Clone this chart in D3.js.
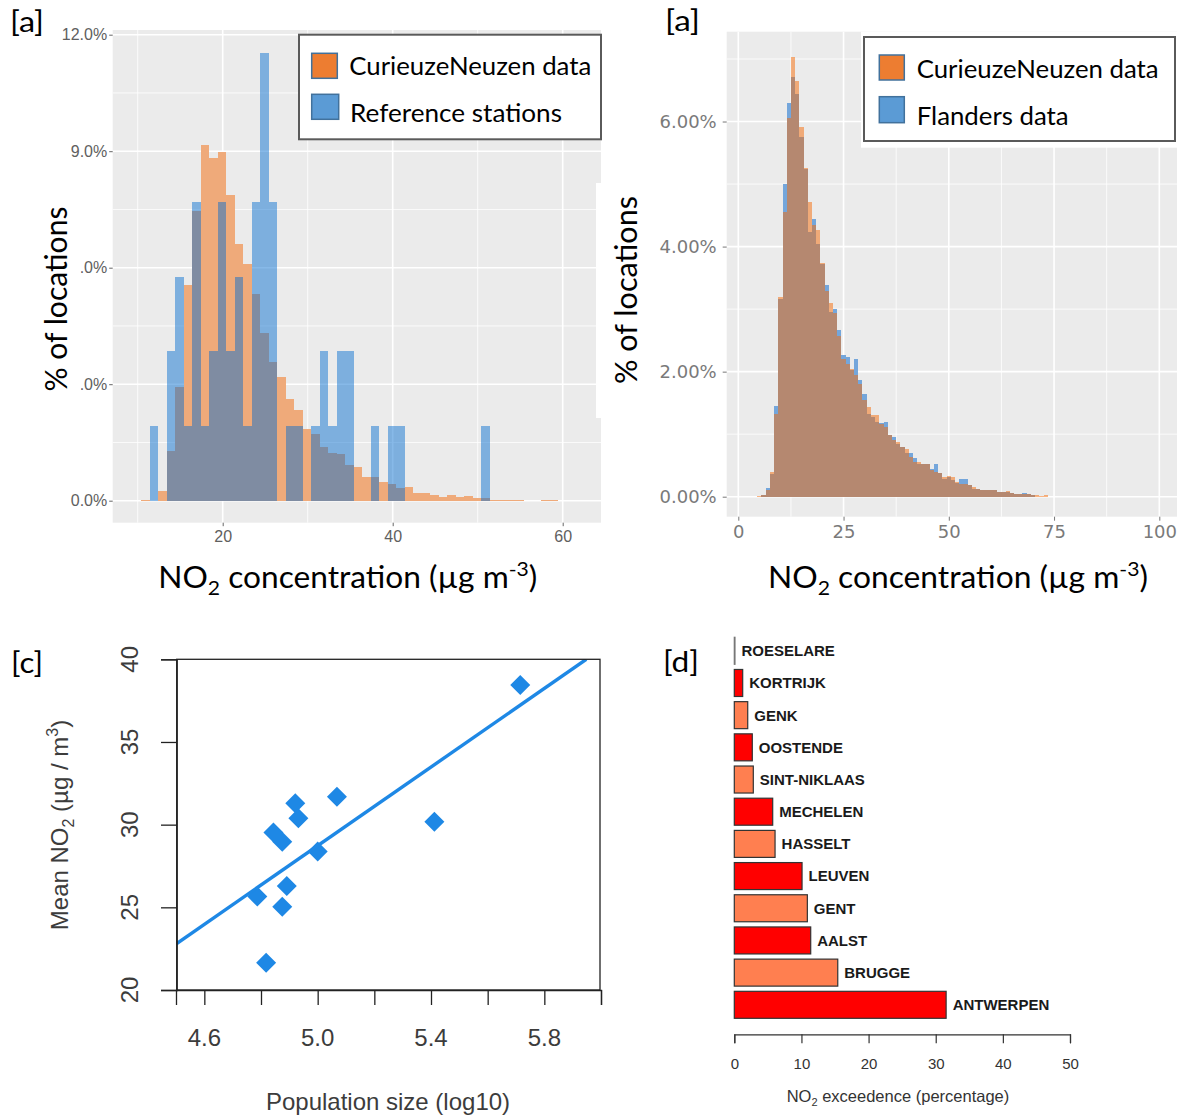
<!DOCTYPE html>
<meta charset="utf-8">
<style>
body { margin: 0; background: #fff; }
svg { display: block; }
</style>
<body>
<script src="https://cdnjs.cloudflare.com/ajax/libs/d3/7.8.5/d3.min.js"></script>
<script>

// ---------- data ----------
// [a] left: % of locations per 1 µg/m3 bin (bin start values)
var leftBinStart = [10.4,11.4,12.4,13.4,14.4,15.4,16.4,17.4,18.4,19.4,20.4,21.4,22.4,23.4,24.4,25.4,26.4,27.4,28.4,29.4,
  30.4,31.4,32.4,33.4,34.4,35.4,36.4,37.4,38.4,39.4,40.4,41.4,42.4,43.4,44.4,45.4,46.4,47.4,48.4,49.4,
  50.4,51.4,52.4,53.4,54.4,55.4,56.4,57.4,58.4];
var leftCurieuze = [0.03,0,0.26,1.28,2.92,5.55,7.47,9.17,8.83,8.97,7.88,6.62,6.10,5.31,4.32,3.57,3.18,2.61,2.33,1.84,
  1.73,1.37,1.23,1.20,0.92,0.86,0.62,0.60,0.47,0.43,0.32,0.34,0.21,0.21,0.15,0.09,0.15,0.09,0.12,0.06,
  0.06,0.03,0.03,0.03,0.03,0,0,0.03,0.03];
var leftReference = [0,1.92,0,3.85,5.77,1.92,7.69,1.92,3.85,7.69,3.85,5.77,1.92,7.69,11.54,7.69,0,1.92,1.92,0,
  1.92,3.85,1.92,3.85,3.85,0,0,1.92,0,1.92,1.92,0,0,0,0,0,0,0,0,0,
  1.92,0,0,0,0,0,0,0,0];
var leftYTicks = [0, 3, 6, 9, 12];
var leftYMinor = [1.5, 4.5, 7.5, 10.5];
var leftXTicks = [20, 40, 60];
var leftXMinor = [10, 30, 50];

// [a] right: % of locations per bin (bin centre values)
var rightBinMid = [5,6,7,8,9,10,11,12,13,14,15,16,17,18,19,20,21,22,23,24,25,26,27,28,29,30,31,32,33,34,35,36,37,38,39,
  40,41,42,43,44,45,46,47,48,49,50,51,52,53,54,55,56,57,58,59,60,61,62,63,64,65,66,67,68,69,70,71,72,73];
var rightCurieuze = [0.01,0.03,0.10,0.40,1.32,3.20,4.56,6.05,7.03,6.65,5.92,5.26,4.72,4.35,4.27,3.73,3.29,3.09,2.94,2.57,
  2.20,2.12,2.04,1.95,1.81,1.54,1.44,1.30,1.30,1.17,1.12,0.98,0.91,0.88,0.79,0.77,0.64,0.56,0.56,0.52,
  0.52,0.43,0.40,0.38,0.32,0.33,0.32,0.24,0.20,0.20,0.19,0.16,0.12,0.11,0.11,0.11,0.10,0.08,0.07,0.09,
  0.06,0.05,0.05,0.05,0.04,0.03,0.03,0.01,0.03];
var rightFlanders = [0,0.03,0.14,0.37,1.45,3.16,5.00,6.29,6.72,6.44,5.76,5.24,4.24,4.44,4.04,3.72,3.39,2.96,3.00,2.66,
  2.26,2.24,2.02,2.20,1.87,1.64,1.33,1.28,1.20,1.18,1.19,0.99,0.96,0.84,0.79,0.70,0.70,0.62,0.52,0.52,
  0.53,0.44,0.53,0.38,0.29,0.31,0.27,0.22,0.28,0.28,0.19,0.12,0.12,0.11,0.11,0.10,0.10,0.08,0.07,0.08,
  0.06,0.05,0.05,0.06,0.04,0.03,0,0,0];
var rightYTicks = [0, 2, 4, 6];
var rightYMinor = [1, 3, 5, 7];
var rightXTicks = [0, 25, 50, 75, 100];
var rightXMinor = [12.5, 37.5, 62.5, 87.5];

// [c] scatter: population size (log10) vs mean NO2
var popLog10 = [5.715, 5.412, 5.068, 4.921, 4.932, 4.844, 4.875, 5.000, 4.891, 4.787, 4.875, 4.818];
var meanNO2  = [38.45, 30.18, 31.69, 31.29, 30.39, 29.52, 28.97, 28.37, 26.29, 25.65, 25.04, 21.65];
var fitLine = [[4.5, 22.78], [5.948, 40]];
var scatterXTicks = [4.6, 4.8, 5.0, 5.2, 5.4, 5.6, 5.8, 6.0];
var scatterXLabels = [4.6, 5.0, 5.4, 5.8];
var scatterYTicks = [20, 25, 30, 35, 40];

// [d] exceedence per city
var cities = ["ROESELARE","KORTRIJK","GENK","OOSTENDE","SINT-NIKLAAS","MECHELEN","HASSELT","LEUVEN","GENT","AALST","BRUGGE","ANTWERPEN"];
var exceedence = [0.1, 1.25, 2.0, 2.68, 2.83, 5.72, 6.07, 10.09, 10.88, 11.38, 15.41, 31.55];
var barXTicks = [0, 10, 20, 30, 40, 50];

// ---------- setup ----------
var CAL = 'Lato, "Open Sans", sans-serif';
var NARROW = '"Liberation Sans Narrow", "Liberation Sans", sans-serif';
var ARIAL = '"Liberation Sans", Arial, sans-serif';

var svg = d3.select("body").append("svg")
    .attr("width", 1185)
    .attr("height", 1117);
svg.append("rect").attr("width", 1185).attr("height", 1117).attr("fill", "#fff");

function calText(x, y, str, size, len) {
  return svg.append("text")
      .attr("x", x).attr("y", y)
      .attr("textLength", len).attr("lengthAdjust", "spacingAndGlyphs")
      .style("font-family", CAL).style("font-size", size + "px")
      .attr("fill", "#000")
      .text(str);
}

function no2Title(x, y, len) {
  var t = svg.append("text").attr("x", x).attr("y", y)
      .attr("textLength", len).attr("lengthAdjust", "spacingAndGlyphs")
      .style("font-family", CAL).style("font-size", "30px").attr("fill", "#000");
  t.append("tspan").text("NO");
  t.append("tspan").attr("dy", 7).style("font-size", "20px").text("2");
  t.append("tspan").attr("dy", -7).text(" concentration (µg m");
  t.append("tspan").attr("dy", -12).style("font-size", "20px").text("-3");
  t.append("tspan").attr("dy", 12).text(")");
}

// grey ggplot panel with white grid
function ggPanel(x, y, box, xMaj, xMin, yMaj, yMin) {
  var g = svg.append("g");
  g.append("rect").attr("x", box[0]).attr("y", box[1])
      .attr("width", box[2] - box[0]).attr("height", box[3] - box[1])
      .attr("fill", "#EBEBEB");
  g.selectAll(".vmin").data(xMin).enter().append("line")
      .attr("x1", x).attr("x2", x).attr("y1", box[1]).attr("y2", box[3])
      .attr("stroke", "#fff").attr("stroke-width", 0.8);
  g.selectAll(".hmin").data(yMin).enter().append("line")
      .attr("y1", y).attr("y2", y).attr("x1", box[0]).attr("x2", box[2])
      .attr("stroke", "#fff").attr("stroke-width", 0.8);
  g.selectAll(".vmaj").data(xMaj).enter().append("line")
      .attr("x1", x).attr("x2", x).attr("y1", box[1]).attr("y2", box[3])
      .attr("stroke", "#fff").attr("stroke-width", 1.6);
  g.selectAll(".hmaj").data(yMaj).enter().append("line")
      .attr("y1", y).attr("y2", y).attr("x1", box[0]).attr("x2", box[2])
      .attr("stroke", "#fff").attr("stroke-width", 1.6);
  return g;
}

// ---------- [a] left histogram ----------
var lx = d3.scaleLinear().domain([20, 40]).range([222.7, 392.7]);
var ly = d3.scaleLinear().domain([0, 12]).range([500.7, 34.7]);
var lBox = [112.7, 30, 601, 522.7];
ggPanel(lx, ly, lBox, leftXTicks, leftXMinor, leftYTicks, leftYMinor);

var leftBins = leftBinStart.map(function(s, i) {
  return {s: s, cn: leftCurieuze[i], ref: leftReference[i]};
});
svg.append("g").selectAll("rect").data(leftBins.filter(function(d) { return d.cn > 0; }))
  .enter().append("rect")
    .attr("x", function(d) { return lx(d.s); })
    .attr("width", function(d) { return lx(d.s + 1) - lx(d.s); })
    .attr("y", function(d) { return ly(d.cn); })
    .attr("height", function(d) { return ly(0) - ly(d.cn); })
    .attr("fill", "#EFAA7A")
    .attr("shape-rendering", "crispEdges");
svg.append("g").selectAll("rect").data(leftBins.filter(function(d) { return d.ref > 0; }))
  .enter().append("rect")
    .attr("x", function(d) { return lx(d.s); })
    .attr("width", function(d) { return lx(d.s + 1) - lx(d.s); })
    .attr("y", function(d) { return ly(d.ref); })
    .attr("height", function(d) { return ly(0) - ly(d.ref); })
    .attr("fill", "rgb(5,108,206)").attr("fill-opacity", 0.48)
    .attr("shape-rendering", "crispEdges");

var lyAxis = svg.append("g").attr("transform", "translate(" + lBox[0] + ",0)")
    .call(d3.axisLeft(ly).tickValues(leftYTicks).tickSize(3.5).tickPadding(2)
      .tickFormat(function(d) { return d.toFixed(1) + "%"; }));
lyAxis.select(".domain").remove();
lyAxis.selectAll("line").attr("stroke", "#666");
lyAxis.selectAll("text").style("font-family", NARROW).style("font-size", "16px").attr("fill", "#606060");

var lxAxis = svg.append("g").attr("transform", "translate(0," + lBox[3] + ")")
    .call(d3.axisBottom(lx).tickValues(leftXTicks).tickSize(3.5).tickPadding(4));
lxAxis.select(".domain").remove();
lxAxis.selectAll("line").attr("stroke", "#666");
lxAxis.selectAll("text").style("font-family", NARROW).style("font-size", "16px").attr("fill", "#606060");

// white backdrop of the y title (hides the first digit of two labels)
svg.append("rect").attr("x", 20).attr("y", 188).attr("width", 60.5).attr("height", 226).attr("fill", "#fff");
calText(10, 32, "[a]", 29, 34);
calText(0, 0, "% of locations", 31, 185)
    .attr("text-anchor", "middle")
    .attr("transform", "translate(66.7,299) rotate(-90)");
no2Title(158.3, 588.3, 379);

// legend
svg.append("rect").attr("x", 299).attr("y", 34.7).attr("width", 302).attr("height", 104.6)
    .attr("fill", "#fff").attr("stroke", "#5a5a5a").attr("stroke-width", 2);
svg.append("rect").attr("x", 311.7).attr("y", 53.3).attr("width", 25.6).attr("height", 25)
    .attr("fill", "#ED7D31").attr("stroke", "#41719C").attr("stroke-width", 1.5);
svg.append("rect").attr("x", 311.7).attr("y", 94.3).attr("width", 27).attr("height", 25)
    .attr("fill", "#5B9BD5").attr("stroke", "#41719C").attr("stroke-width", 1.5);
calText(349.3, 75, "CurieuzeNeuzen data", 25, 242);
calText(350, 121.7, "Reference stations", 25, 212);

// ---------- [a] right histogram ----------
var rx = d3.scaleLinear().domain([0, 100]).range([738.3, 1159.3]);
var ry = d3.scaleLinear().domain([0, 7]).range([496.7, 59]);
var rBox = [726.7, 31.7, 1177, 516.7];

ggPanel(rx, ry, rBox, rightXTicks, rightXMinor, rightYTicks, rightYMinor);
// white backdrop of right y-title, it bites into the left panel
svg.append("rect").attr("x", 596).attr("y", 183).attr("width", 50).attr("height", 235).attr("fill", "#fff");

var rightBins = rightBinMid.map(function(c, i) {
  return {c: c, cn: rightCurieuze[i], fl: rightFlanders[i]};
});
svg.append("g").selectAll("rect").data(rightBins.filter(function(d) { return d.fl > 0; }))
  .enter().append("rect")
    .attr("x", function(d) { return rx(d.c - 0.5); })
    .attr("width", function(d) { return rx(d.c + 0.5) - rx(d.c - 0.5); })
    .attr("y", function(d) { return ry(d.fl); })
    .attr("height", function(d) { return ry(0) - ry(d.fl); })
    .attr("fill", "#74A6DB")
    .attr("shape-rendering", "crispEdges");
svg.append("g").selectAll("rect").data(rightBins.filter(function(d) { return d.cn > 0; }))
  .enter().append("rect")
    .attr("x", function(d) { return rx(d.c - 0.5); })
    .attr("width", function(d) { return rx(d.c + 0.5) - rx(d.c - 0.5); })
    .attr("y", function(d) { return ry(d.cn); })
    .attr("height", function(d) { return ry(0) - ry(d.cn); })
    .attr("fill", "rgb(245,105,5)").attr("fill-opacity", 0.5)
    .attr("shape-rendering", "crispEdges");

var ryAxis = svg.append("g").attr("transform", "translate(" + rBox[0] + ",0)")
    .call(d3.axisLeft(ry).tickValues(rightYTicks).tickSize(4).tickPadding(6)
      .tickFormat(function(d) { return d.toFixed(2) + "%"; }));
ryAxis.select(".domain").remove();
ryAxis.selectAll("line").attr("stroke", "#777");
ryAxis.selectAll("text").style("font-family", '"DejaVu Sans", sans-serif').style("font-size", "18px").attr("fill", "#7a7a7a");

var rxAxis = svg.append("g").attr("transform", "translate(0," + rBox[3] + ")")
    .call(d3.axisBottom(rx).tickValues(rightXTicks).tickSize(4).tickPadding(5));
rxAxis.select(".domain").remove();
rxAxis.selectAll("line").attr("stroke", "#777");
rxAxis.selectAll("text").style("font-family", '"DejaVu Sans", sans-serif').style("font-size", "18px").attr("fill", "#7a7a7a");

calText(665, 31, "[a]", 29, 35);
calText(0, 0, "% of locations", 31, 188)
    .attr("text-anchor", "middle")
    .attr("transform", "translate(636.7,290) rotate(-90)");
no2Title(768, 588.3, 380);

// legend
svg.append("rect").attr("x", 861).attr("y", 31.7).attr("width", 324).attr("height", 116).attr("fill", "#fff");
svg.append("rect").attr("x", 864).attr("y", 37).attr("width", 311).attr("height", 104)
    .attr("fill", "#fff").attr("stroke", "#5a5a5a").attr("stroke-width", 2);
svg.append("rect").attr("x", 879.3).attr("y", 55).attr("width", 25).attr("height", 25)
    .attr("fill", "#ED7D31").attr("stroke", "#41719C").attr("stroke-width", 1.5);
svg.append("rect").attr("x", 879.3).attr("y", 96.7).attr("width", 25).attr("height", 26)
    .attr("fill", "#5B9BD5").attr("stroke", "#41719C").attr("stroke-width", 1.5);
calText(916.7, 77.7, "CurieuzeNeuzen data", 25, 242);
calText(916.7, 125, "Flanders data", 25, 152);

// ---------- [c] scatter ----------
var sx = d3.scaleLinear().domain([4.5, 6.0]).range([176, 601]);
var sy = d3.scaleLinear().domain([20, 40]).range([990, 659.3]);
var sBox = [176.7, 659.3, 600, 990];
var SCOL = "#1E88E5";

svg.append("clipPath").attr("id", "sclip").append("rect")
    .attr("x", sBox[0]).attr("y", sBox[1]).attr("width", sBox[2] - sBox[0]).attr("height", sBox[3] - sBox[1]);

svg.append("g").selectAll("path").data(popLog10.map(function(p, i) { return [p, meanNO2[i]]; }))
  .enter().append("path")
    .attr("d", d3.symbol().type(d3.symbolSquare).size(200))
    .attr("transform", function(d) { return "translate(" + sx(d[0]) + "," + sy(d[1]) + ") rotate(45)"; })
    .attr("fill", SCOL);

svg.append("path").datum(fitLine)
    .attr("d", d3.line().x(function(d) { return sx(d[0]); }).y(function(d) { return sy(d[1]); }))
    .attr("clip-path", "url(#sclip)")
    .attr("stroke", SCOL).attr("stroke-width", 3.4).attr("fill", "none");

svg.append("rect").attr("x", sBox[0]).attr("y", sBox[1])
    .attr("width", sBox[2] - sBox[0]).attr("height", sBox[3] - sBox[1])
    .attr("fill", "none").attr("stroke", "#222").attr("stroke-width", 1.3);

var syAxis = svg.append("g").attr("transform", "translate(" + sBox[0] + ",0)")
    .call(d3.axisLeft(sy).tickValues(scatterYTicks).tickSize(15.7).tickFormat(""));
syAxis.select(".domain").attr("stroke", "#222").attr("stroke-width", 1.3);
syAxis.selectAll("line").attr("stroke", "#222").attr("stroke-width", 1.3);
svg.append("g").selectAll("text").data(scatterYTicks).enter().append("text")
    .attr("transform", function(d) { return "translate(138," + sy(d) + ") rotate(-90)"; })
    .attr("text-anchor", "middle")
    .style("font-family", ARIAL).style("font-size", "24px").attr("fill", "#3c3c3c")
    .text(function(d) { return d; });

var sxAxis = svg.append("g").attr("transform", "translate(0," + sBox[3] + ")")
    .call(d3.axisBottom(sx).tickValues(scatterXTicks).tickSize(15).tickFormat(""));
sxAxis.select(".domain").attr("stroke", "#222").attr("stroke-width", 1.3);
sxAxis.selectAll("line").attr("stroke", "#222").attr("stroke-width", 1.3);
svg.append("g").selectAll("text").data(scatterXLabels).enter().append("text")
    .attr("x", function(d) { return sx(d); }).attr("y", 1046)
    .attr("text-anchor", "middle")
    .style("font-family", ARIAL).style("font-size", "24px").attr("fill", "#3c3c3c")
    .text(function(d) { return d.toFixed(1); });

svg.append("text").attr("x", 388).attr("y", 1110).attr("text-anchor", "middle")
    .style("font-family", ARIAL).style("font-size", "24px").attr("fill", "#3c3c3c")
    .text("Population size (log10)");
var ytl = svg.append("text").attr("text-anchor", "middle")
    .attr("transform", "translate(68.3,825) rotate(-90)")
    .style("font-family", ARIAL).style("font-size", "24px").attr("fill", "#3c3c3c");
ytl.append("tspan").text("Mean NO");
ytl.append("tspan").attr("dy", 6).style("font-size", "16px").text("2");
ytl.append("tspan").attr("dy", -6).text(" (µg / m");
ytl.append("tspan").attr("dy", -10).style("font-size", "16px").text("3");
ytl.append("tspan").attr("dy", 10).text(")");
calText(11, 672.7, "[c]", 29, 32);

// ---------- [d] bars ----------
var bx = d3.scaleLinear().domain([0, 50]).range([734.3, 1070]);
var by = d3.scaleBand().domain(cities).range([634.7, 1020.9]).paddingInner(0.161).paddingOuter(0.0805);

var bars = cities.map(function(c, i) { return {city: c, v: exceedence[i], i: i}; });
svg.append("g").selectAll("rect").data(bars).enter().append("rect")
    .attr("x", bx(0))
    .attr("y", function(d) { return by(d.city); })
    .attr("width", function(d) { return bx(d.v) - bx(0); })
    .attr("height", by.bandwidth())
    .attr("fill", function(d) { return d.i % 2 ? "#FF0000" : "#FF7F50"; })
    .attr("stroke", function(d) { return d.v > 0.5 ? "#333" : "#777"; })
    .attr("stroke-width", 1.2);
svg.append("g").selectAll("text").data(bars).enter().append("text")
    .attr("x", function(d) { return bx(d.v) + 6.5; })
    .attr("y", function(d) { return by(d.city) + by.bandwidth() / 2; })
    .attr("dy", "0.36em")
    .style("font-family", ARIAL).style("font-size", "15px").style("font-weight", "bold")
    .attr("fill", "#1a1a1a")
    .text(function(d) { return d.city; });

var bxAxis = svg.append("g").attr("transform", "translate(0,1034.3)")
    .call(d3.axisBottom(bx).tickValues(barXTicks).tickSize(9).tickPadding(14.6));
bxAxis.select(".domain").attr("stroke", "#333").attr("stroke-width", 1.2);
bxAxis.selectAll("line").attr("stroke", "#333").attr("stroke-width", 1.2);
bxAxis.selectAll("text").style("font-family", ARIAL).style("font-size", "15px").attr("fill", "#333");

var btl = svg.append("text").attr("x", 898).attr("y", 1102).attr("text-anchor", "middle")
    .style("font-family", ARIAL).style("font-size", "16.5px").attr("fill", "#333");
btl.append("tspan").text("NO");
btl.append("tspan").attr("dy", 4).style("font-size", "11px").text("2");
btl.append("tspan").attr("dy", -4).text(" exceedence (percentage)");
calText(663, 672, "[d]", 29, 36);

</script>
</body>
